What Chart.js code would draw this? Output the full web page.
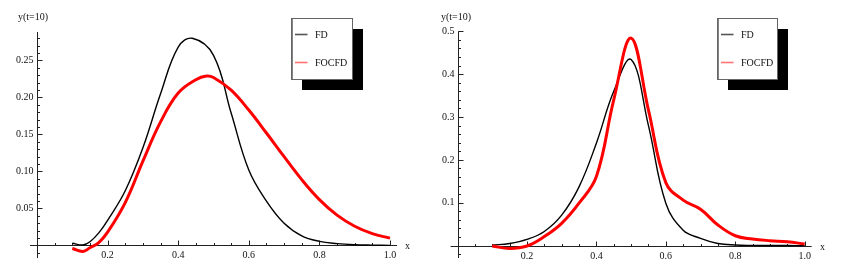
<!DOCTYPE html>
<html lang="en">
<head>
    <meta charset="UTF-8">
    <title>FD vs FOCFD</title>
    <script src="https://cdn.jsdelivr.net/npm/chart.js"></script>
    <style>
        body { margin: 0; background: #fff; width: 842px; height: 268px; position: relative; overflow: hidden; }
        canvas { position: absolute; top: 0; }
        #left { left: 0; }
        #right { left: 420px; }
    </style>
</head>
<body>
    <canvas id="left" width="420" height="268"></canvas>
    <canvas id="right" width="422" height="268"></canvas>

    <script>
        // left panel data
        const fdLeftX = [0.10, 0.13, 0.15, 0.175, 0.20, 0.25, 0.30, 0.35, 0.40, 0.44, 0.50, 0.55, 0.60, 0.65, 0.70, 0.75, 0.80, 0.85, 0.90, 0.95, 1.00];
        const fdLeftY = [0.003, 0.0007, 0.005, 0.017, 0.034, 0.074, 0.132, 0.205, 0.268, 0.280, 0.257, 0.179, 0.102, 0.060, 0.030, 0.013, 0.0056, 0.0025, 0.001, 0.0005, 0.0002];
        const focfdLeftX = [0.10, 0.13, 0.15, 0.175, 0.20, 0.25, 0.30, 0.35, 0.40, 0.45, 0.48, 0.50, 0.55, 0.60, 0.65, 0.70, 0.75, 0.80, 0.85, 0.90, 0.95, 1.00];
        const focfdLeftY = [-0.004, -0.008, -0.003, 0.004, 0.018, 0.058, 0.114, 0.167, 0.206, 0.224, 0.229, 0.227, 0.210, 0.183, 0.152, 0.120, 0.089, 0.062, 0.041, 0.026, 0.016, 0.010];

        // right panel data
        const rightX = [0.10, 0.15, 0.20, 0.25, 0.30, 0.35, 0.40, 0.45, 0.50, 0.55, 0.60, 0.65, 0.70, 0.75, 0.80, 0.85, 0.90, 0.95, 1.00];
        const fdRightY = [0.001, 0.005, 0.0146, 0.033, 0.071, 0.137, 0.239, 0.36, 0.434, 0.28, 0.099, 0.036, 0.017, 0.005, 0.0014, 0.0005, 0.0002, 0.0001, 0.0];
        const focfdRightY = [-0.001, -0.0065, -0.001, 0.021, 0.052, 0.099, 0.161, 0.34, 0.484, 0.316, 0.147, 0.106, 0.085, 0.048, 0.023, 0.0154, 0.0115, 0.009, 0.0037];

        // tick labels
        const xTickValues = [0.2, 0.4, 0.6, 0.8, 1.0];
        const xTickLabels = ['0.2', '0.4', '0.6', '0.8', '1.0'];
        const yLeftTickValues = [0.05, 0.10, 0.15, 0.20, 0.25];
        const yLeftTickLabels = ['0.05', '0.10', '0.15', '0.20', '0.25'];
        const yRightTickValues = [0.1, 0.2, 0.3, 0.4, 0.5];
        const yRightTickLabels = ['0.1', '0.2', '0.3', '0.4', '0.5'];

        const seriesNames = ['FD', 'FOCFD'];
        const yTitle = 'y(t=10)';
        const xTitle = 'x';

        const FONT = '10px "Liberation Serif", "DejaVu Serif", serif';

        function isMultiple(v, step) {
            const r = v / step;
            return Math.abs(r - Math.round(r)) < 1e-6;
        }

        // Mathematica-like axes crossing at the origin, ticks pointing inwards
        const mmaAxes = {
            id: 'mmaAxes',
            beforeDatasetsDraw(chart, args, o) {
                const ctx = chart.ctx;
                const xs = chart.scales.x, ys = chart.scales.y;
                const x0 = Math.round(xs.getPixelForValue(0)) + 0.5;
                const y0 = Math.round(ys.getPixelForValue(0)) + 0.5;
                ctx.save();
                ctx.strokeStyle = '#222';
                ctx.lineWidth = 1;
                ctx.beginPath();
                ctx.moveTo(xs.getPixelForValue(xs.min), y0);
                ctx.lineTo(xs.getPixelForValue(xs.max), y0);
                ctx.moveTo(x0, ys.getPixelForValue(ys.min));
                ctx.lineTo(x0, ys.getPixelForValue(ys.max));

                // x ticks
                for (let i = Math.ceil(xs.min / o.xMinor); i * o.xMinor <= xs.max + 1e-9; i++) {
                    const v = i * o.xMinor;
                    if (i === 0) continue;
                    const len = isMultiple(v, o.xMajor) ? 5 : 2.5;
                    const px = Math.round(xs.getPixelForValue(v)) + 0.5;
                    ctx.moveTo(px, y0);
                    ctx.lineTo(px, y0 - len);
                }
                // y ticks
                for (let i = Math.ceil(ys.min / o.yMinor); i * o.yMinor <= ys.max + 1e-9; i++) {
                    const v = i * o.yMinor;
                    if (i === 0) continue;
                    const len = isMultiple(v, o.yMajor) ? 5 : 2.5;
                    const py = Math.round(ys.getPixelForValue(v)) + 0.5;
                    ctx.moveTo(x0, py);
                    ctx.lineTo(x0 + len, py);
                }
                ctx.stroke();

                ctx.fillStyle = '#111';
                ctx.font = FONT;
                ctx.textBaseline = 'middle';
                ctx.textAlign = 'center';
                xTickValues.forEach((v, i) => {
                    ctx.fillText(xTickLabels[i], xs.getPixelForValue(v), y0 + 9.5);
                });
                ctx.textAlign = 'right';
                o.yValues.forEach((v, i) => {
                    ctx.fillText(o.yLabels[i], x0 - 4, ys.getPixelForValue(v));
                });
                ctx.textAlign = 'left';
                ctx.fillText(yTitle, o.titleX, 17);
                ctx.fillText(xTitle, o.xTitleX, y0 + 0.5);
                ctx.restore();
            },
            afterDraw(chart, args, o) {
                // legend box with drop shadow
                const ctx = chart.ctx;
                const b = o.box;
                ctx.save();
                ctx.fillStyle = '#000';
                ctx.fillRect(b.left + 10.5, b.top + 10.5, b.width, b.height);
                ctx.fillStyle = '#fff';
                ctx.fillRect(b.left, b.top, b.width, b.height);
                ctx.strokeStyle = '#666';
                ctx.lineWidth = 1;
                ctx.strokeRect(b.left, b.top, b.width, b.height);
                ctx.beginPath();
                ctx.moveTo(b.left + 0.8, b.top);
                ctx.lineTo(b.left + 0.8, b.top + b.height);
                ctx.stroke();

                ctx.font = FONT;
                ctx.textBaseline = 'middle';
                ctx.textAlign = 'left';
                chart.data.datasets.forEach((ds, i) => {
                    const y = b.top + 16 + i * 28;
                    ctx.strokeStyle = ds.legendColor;
                    ctx.lineWidth = 1.6;
                    ctx.beginPath();
                    ctx.moveTo(b.left + 3.5, y);
                    ctx.lineTo(b.left + 16, y);
                    ctx.stroke();
                    ctx.fillStyle = '#111';
                    ctx.fillText(ds.label, b.left + 23.5, y + 0.5);
                });
                ctx.restore();
            }
        };

        function toPoints(xs, ys) {
            return xs.map((x, i) => ({ x: x, y: ys[i] }));
        }

        function makeChart(id, fd, focfd, xRange, yRange, padding, axesOpts) {
            const ctx = document.getElementById(id).getContext('2d');
            return new Chart(ctx, {
                type: 'line',
                data: {
                    datasets: [{
                        label: seriesNames[0],
                        data: fd,
                        borderColor: '#000',
                        borderWidth: 1.4,
                        legendColor: '#555',
                        pointRadius: 0,
                        tension: 0.4,
                        order: 2
                    }, {
                        label: seriesNames[1],
                        data: focfd,
                        borderColor: '#ff0000',
                        borderWidth: 3,
                        legendColor: '#ff7373',
                        pointRadius: 0,
                        tension: 0.4,
                        order: 1
                    }]
                },
                options: {
                    responsive: false,
                    animation: false,
                    devicePixelRatio: 1,
                    layout: { padding: padding },
                    plugins: {
                        legend: { display: false },
                        tooltip: { enabled: false },
                        mmaAxes: axesOpts
                    },
                    scales: {
                        x: { type: 'linear', display: false, min: xRange[0], max: xRange[1] },
                        y: { type: 'linear', display: false, min: yRange[0], max: yRange[1] }
                    }
                },
                plugins: [mmaAxes]
            });
        }

        makeChart('left',
            toPoints(fdLeftX, fdLeftY), toPoints(focfdLeftX, focfdLeftY),
            [-0.02, 1.02], [-0.017, 0.2885],
            { left: 29.94, right: 22.94, top: 32, bottom: 9.92 },
            {
                xMajor: 0.2, xMinor: 0.05, yMajor: 0.05, yMinor: 0.01,
                yValues: yLeftTickValues, yLabels: yLeftTickLabels,
                titleX: 18, xTitleX: 405,
                box: { left: 291.5, top: 18.5, width: 61, height: 61 }
            });

        makeChart('right',
            toPoints(rightX, fdRightY), toPoints(rightX, focfdRightY),
            [-0.02, 1.02], [-0.029, 0.5],
            { left: 30.56, right: 30.36, top: 31.3, bottom: 9.97 },
            {
                xMajor: 0.2, xMinor: 0.05, yMajor: 0.1, yMinor: 0.02,
                yValues: yRightTickValues, yLabels: yRightTickLabels,
                titleX: 21, xTitleX: 400,
                box: { left: 297.5, top: 18.5, width: 60, height: 61 }
            });
    </script>
</body>
</html>
